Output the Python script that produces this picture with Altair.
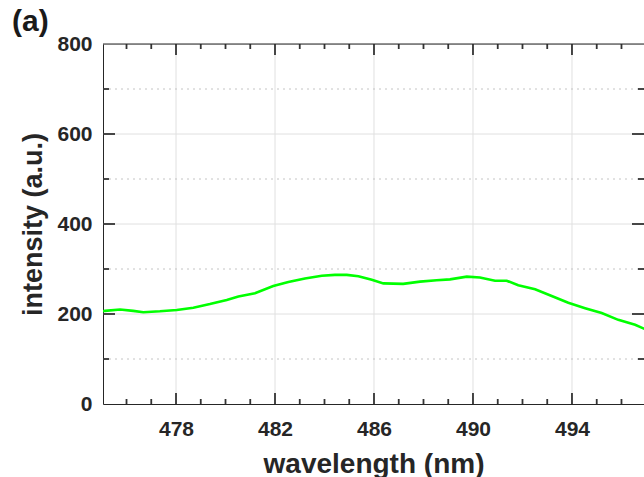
import altair as alt
import pandas as pd

# ---- data ----
wavelength = [475.05, 475.13, 475.74, 476.27, 476.68, 477.35, 478.03, 478.70, 479.37,
              480.05, 480.52, 481.19, 481.93, 482.54, 483.21, 483.89, 484.42, 484.90,
              485.37, 485.91, 486.38, 487.18, 487.86, 488.53, 489.07, 489.75, 490.28,
              490.89, 491.36, 491.83, 492.51, 493.18, 493.85, 494.53, 495.20, 495.87,
              496.55, 496.88, 497.00]
intensity = [206, 207, 210, 207, 204, 206, 209, 214, 222,
             231, 239, 246, 262, 271, 279, 285, 287, 287,
             284, 276, 268, 267, 272, 275, 277, 283, 281,
             274, 274, 264, 255, 240, 225, 213, 202, 187,
             176, 168, 166]

x_major = [478, 482, 486, 490, 494]
x_minor = [476, 477, 479, 480, 481, 483, 484, 485, 487, 488, 489, 491, 492, 493, 495, 496]
y_labels = [0, 200, 400, 600, 800]
y_major = [200, 400, 600]
y_minor = [100, 300, 500, 700]

X_DOMAIN = [475.05, 496.91]
Y_DOMAIN = [0, 800]
W, H = 541, 360
FONT = "Liberation Sans"
TXT = "#262626"
TICK = "#333333"
GRID = "#e0e0e0"

df = pd.DataFrame({"wl": wavelength, "inten": intensity})
xs = alt.Scale(domain=X_DOMAIN, nice=False, zero=False)
ys = alt.Scale(domain=Y_DOMAIN, nice=False)

x_axis = alt.Axis(values=x_major, ticks=False, domain=True, domainColor=TXT, domainWidth=1,
                  grid=False,
                  labelFont=FONT, labelFontSize=21, labelFontWeight="bold", labelColor=TXT,
                  labelPadding=14, labelFlush=False, labelOverlap=False,
                  title="wavelength (nm)", titleFont=FONT, titleFontSize=28,
                  titleFontWeight="bold", titleColor=TXT, titleY=68,
                  titleBaseline="alphabetic", titleAlign="center", titleX=W / 2)
y_axis = alt.Axis(values=y_labels, ticks=False, domain=True, domainColor=TXT, domainWidth=1,
                  grid=False,
                  labelFont=FONT, labelFontSize=21, labelFontWeight="bold", labelColor=TXT,
                  labelPadding=11, labelFlush=False, labelOverlap=False,
                  title="intensity (a.u.)", titleFont=FONT, titleFontSize=27,
                  titleFontWeight="bold", titleColor=TXT, titleX=-62, titleY=H / 2,
                  titleAngle=270, titleBaseline="alphabetic", titleAlign="center")

# major solid grid
vgrid = alt.Chart(pd.DataFrame({"gx": x_major})).mark_rule(color=GRID, strokeWidth=1).encode(
    x=alt.X("gx:Q", scale=xs, axis=x_axis), y=alt.value(0), y2=alt.value(H))
hgrid = alt.Chart(pd.DataFrame({"gy": y_major})).mark_rule(color=GRID, strokeWidth=1).encode(
    y=alt.Y("gy:Q", scale=ys, axis=y_axis), x=alt.value(0), x2=alt.value(W))

# minor dotted grid
minor_grid = alt.Chart(pd.DataFrame({"my": y_minor})).mark_rule(
    color="#c4c4c4", strokeWidth=1, strokeDash=[2, 4]
).encode(y=alt.Y("my:Q", scale=ys), x=alt.value(0), x2=alt.value(W))

line = alt.Chart(df).mark_line(color="#00ff00", strokeWidth=2.6, clip=True).encode(
    x=alt.X("wl:Q", scale=xs), y=alt.Y("inten:Q", scale=ys),
)


# inward ticks on all four sides
def xticks(vals, length, name):
    d = pd.DataFrame({name: vals})
    bot = alt.Chart(d).mark_rule(color=TICK, strokeWidth=1.8, y2Offset=-length).encode(
        x=alt.X(f"{name}:Q", scale=xs), y=alt.YDatum(Y_DOMAIN[0], scale=ys),
        y2=alt.Y2Datum(Y_DOMAIN[0]))
    top = alt.Chart(d).mark_rule(color=TICK, strokeWidth=1.8, y2Offset=length).encode(
        x=alt.X(f"{name}:Q", scale=xs), y=alt.YDatum(Y_DOMAIN[1], scale=ys),
        y2=alt.Y2Datum(Y_DOMAIN[1]))
    return [bot, top]


def yticks(vals, length, name):
    d = pd.DataFrame({name: vals})
    left = alt.Chart(d).mark_rule(color=TICK, strokeWidth=1.8).encode(
        y=alt.Y(f"{name}:Q", scale=ys), x=alt.value(0), x2=alt.value(length))
    right = alt.Chart(d).mark_rule(color=TICK, strokeWidth=1.8).encode(
        y=alt.Y(f"{name}:Q", scale=ys), x=alt.value(W), x2=alt.value(W - length))
    return [left, right]


top_line = alt.Chart(pd.DataFrame({"ty": [Y_DOMAIN[1]]})).mark_rule(color=TXT, strokeWidth=1).encode(
    y=alt.Y("ty:Q", scale=ys), x=alt.value(0), x2=alt.value(W))

layers = [vgrid, hgrid, minor_grid, line] + xticks(x_major, 11, "xM") + xticks(x_minor, 5, "xm") \
    + yticks(y_major, 12, "yM") + yticks(y_minor, 6, "ym") + [top_line]

chart = alt.layer(*layers).properties(
    width=W, height=H,
    autosize=alt.AutoSizeParams(type="none"),
    padding={"left": 103, "top": 44, "right": 0, "bottom": 73},
    title=alt.TitleParams(text="(a)", anchor="start", frame="group", dx=-91, offset=0, dy=4,
                          font=FONT, fontSize=30, fontWeight="bold", color="#1a1a1a"),
).configure_view(stroke=None).configure(background="white")

chart.save("out.html", embed_options={"renderer": "svg", "actions": False})
